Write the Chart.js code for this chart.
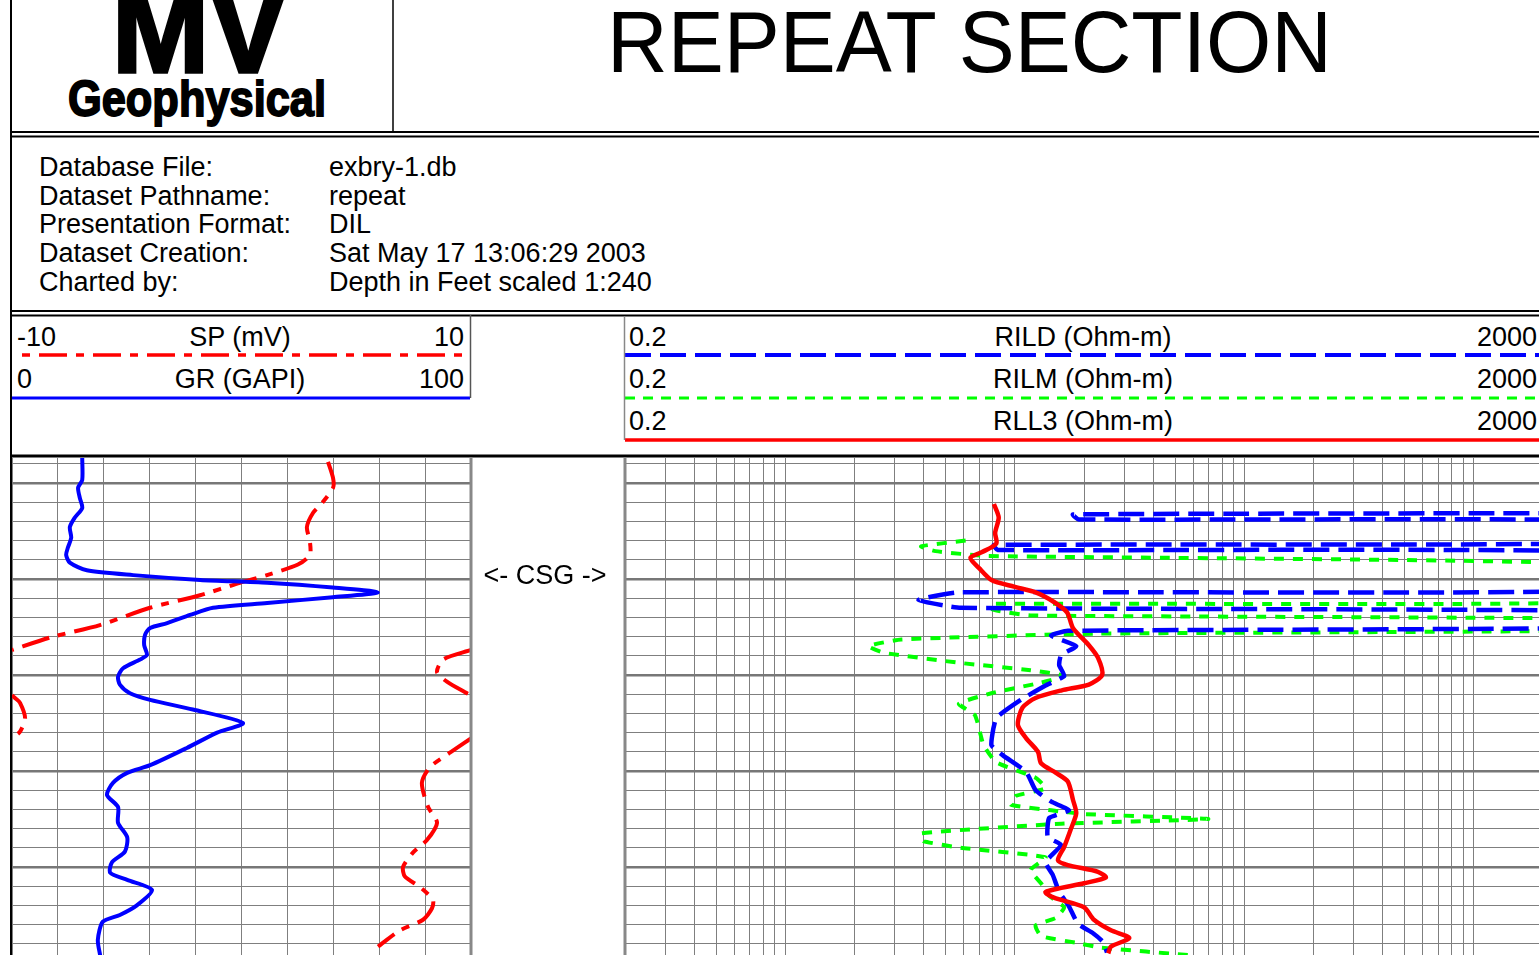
<!DOCTYPE html>
<html><head><meta charset="utf-8">
<script src="https://cdn.jsdelivr.net/npm/chart.js@4.4.1/dist/chart.umd.min.js"></script>
<style>
html,body{margin:0;padding:0;width:1539px;height:955px;overflow:hidden;background:#fff;}
#hdr{position:absolute;left:0;top:0;}
#c1{position:absolute;left:12px;top:458px;}
#c2{position:absolute;left:625px;top:458px;}
#ov{position:absolute;left:0;top:0;pointer-events:none;}
text{font-family:"Liberation Sans",Arial,sans-serif;fill:#000;}
</style></head><body>
<svg id="hdr" width="1539" height="458">
  <text x="112" y="72" font-size="122" font-weight="bold" textLength="175" lengthAdjust="spacingAndGlyphs" stroke="#000" stroke-width="3.5">MV</text>
  <text x="68" y="116" font-size="50" font-weight="bold" textLength="258" lengthAdjust="spacingAndGlyphs" stroke="#000" stroke-width="1.8">Geophysical</text>
  <text x="607" y="72" font-size="88" textLength="725" lengthAdjust="spacingAndGlyphs">REPEAT SECTION</text>

  <g font-size="27">
    <text x="39" y="176">Database File:</text>
    <text x="39" y="205">Dataset Pathname:</text>
    <text x="39" y="233">Presentation Format:</text>
    <text x="39" y="262">Dataset Creation:</text>
    <text x="39" y="291">Charted by:</text>
    <text x="329" y="176">exbry-1.db</text>
    <text x="329" y="205">repeat</text>
    <text x="329" y="233">DIL</text>
    <text x="329" y="262">Sat May 17 13:06:29 2003</text>
    <text x="329" y="291">Depth in Feet scaled 1:240</text>
  </g>

  <g font-size="27">
    <text x="17" y="346">-10</text>
    <text x="240" y="346" text-anchor="middle">SP (mV)</text>
    <text x="464" y="346" text-anchor="end">10</text>
    <text x="17" y="388">0</text>
    <text x="240" y="388" text-anchor="middle">GR (GAPI)</text>
    <text x="464" y="388" text-anchor="end">100</text>

    <text x="629" y="346">0.2</text>
    <text x="1083" y="346" text-anchor="middle">RILD (Ohm-m)</text>
    <text x="1537" y="346" text-anchor="end">2000</text>
    <text x="629" y="388">0.2</text>
    <text x="1083" y="388" text-anchor="middle">RILM (Ohm-m)</text>
    <text x="1537" y="388" text-anchor="end">2000</text>
    <text x="629" y="430">0.2</text>
    <text x="1083" y="430" text-anchor="middle">RLL3 (Ohm-m)</text>
    <text x="1537" y="430" text-anchor="end">2000</text>
  </g>

  <line x1="22" y1="355" x2="463" y2="355" stroke="#ff0000" stroke-width="3.5" stroke-dasharray="8 9 28 9"/>
  <line x1="12" y1="398" x2="470" y2="398" stroke="#0000ff" stroke-width="3"/>
  <line x1="625" y1="355" x2="1539" y2="355" stroke="#0000ff" stroke-width="4" stroke-dasharray="26 9"/>
  <line x1="625" y1="398" x2="1539" y2="398" stroke="#00ff00" stroke-width="3" stroke-dasharray="10 8"/>
  <line x1="625" y1="440" x2="1539" y2="440" stroke="#ff0000" stroke-width="3.5"/>
</svg>

<canvas id="c1" width="459" height="497"></canvas>
<canvas id="c2" width="918" height="497"></canvas>

<svg id="ov" width="1539" height="955">
  <text x="545" y="584" font-size="27" text-anchor="middle">&lt;- CSG -&gt;</text>
  <line x1="11" y1="0" x2="11" y2="955" stroke="#000" stroke-width="2"/>
  <line x1="393" y1="0" x2="393" y2="132" stroke="#000" stroke-width="1.5"/>
  <line x1="11" y1="132" x2="1539" y2="132" stroke="#000" stroke-width="2"/>
  <line x1="11" y1="136.5" x2="1539" y2="136.5" stroke="#000" stroke-width="2"/>
  <line x1="11" y1="311" x2="1539" y2="311" stroke="#000" stroke-width="2"/>
  <line x1="11" y1="315.5" x2="1539" y2="315.5" stroke="#000" stroke-width="2"/>
  <line x1="470.5" y1="315" x2="470.5" y2="398" stroke="#555" stroke-width="1.5"/>
  <line x1="624.5" y1="316" x2="624.5" y2="440" stroke="#888" stroke-width="1.5"/>
  <line x1="11" y1="456" x2="1539" y2="456" stroke="#000" stroke-width="3"/>
  <line x1="471" y1="457" x2="471" y2="955" stroke="#888" stroke-width="3"/>
  <line x1="625" y1="457" x2="625" y2="955" stroke="#888" stroke-width="3"/>
</svg>

<script>
// ---- grid / tick values ----
const depthTop = 1987.4;
const depthBottom = 2039.17;
const depthGrid = [1988,1990,1992,1994,1996,1998,2000,2002,2004,2006,2008,2010,2012,2014,2016,2018,2020,2022,2024,2026,2028,2030,2032,2034,2036,2038];
const linGrid = [0,10,20,30,40,50,60,70,80,90,100];
const logGrid = [0.2,0.3,0.4,0.5,0.6,0.7,0.8,0.9,1,2,3,4,5,6,7,8,9,10,20,30,40,50,60,70,80,90,100,200,300,400,500,600,700,800,900,1000,2000];

// ---- GR (GAPI) ----
const grDepth = [1987.4,1989.7,1990.5,1991.6,1992.6,1993.6,1994.6,1995.7,1996.7,1997.5,1998.3,1999.1,1999.6,2000.1,2000.4,2000.9,2001.4,2001.9,2002.5,2003.0,2003.75,2004.6,2005.1,2005.8,2006.9,2007.9,2008.4,2009.3,2010.2,2011.0,2011.9,2012.6,2013.6,2015.0,2016.0,2017.6,2019.4,2020.2,2021.25,2022.5,2023.75,2025.4,2026.9,2028.4,2029.5,2030.6,2031.35,2032.4,2034.0,2035.0,2035.7,2037.6,2039.2];
const grValue = [15.3,15.3,14.4,14.8,15.3,13.7,12.6,12.9,12.2,11.8,12.6,16.3,26.4,41.0,55.6,69.9,79.7,69.9,55.6,43.8,38.8,33.8,30.1,29.0,28.8,29.4,27.9,24.2,23.1,23.5,25.7,30.1,39.4,50.3,44.7,38.1,30.1,25.1,22.0,20.7,23.1,23.1,25.1,24.6,21.8,21.4,25.1,30.5,27.2,23.5,19.8,18.7,19.2];

// ---- SP (mV), as plotted on the -10..10 track (null = wrap break) ----
const spDepth = [1987.8,1989.5,1990.5,1992.1,1993.1,1994.6,1996.1,1997.5,1998.5,1999.6,2000.4,2001.7,2003.0,2004.8,2006.1,2007.4,
  2007.4,
  2007.4,2008.4,2009.7,2010.7,2011.8,2012.1,
  2012.1,
  2012.1,2012.4,2012.9,2014.5,2015.9,2016.6,
  2016.6,
  2016.6,2018.1,2019.6,2021.25,2023.75,2025.4,2027.2,2028.5,2030.0,2031.0,2032.1,2033.4,2034.3,2035.5,2036.6,2038.3];
const spValue = [3.77,3.99,3.99,3.51,3.12,2.85,2.98,2.98,2.46,1.11,-0.07,-1.81,-3.99,-6.17,-8.34,-10.0,
  null,
  10.0,8.78,8.52,8.95,9.74,10.0,
  null,
  -10.0,-9.87,-9.65,-9.43,-9.65,-10.0,
  null,
  10.0,9.08,8.21,7.86,8.13,8.52,8.08,7.47,7.04,7.12,7.78,8.34,8.30,7.91,6.91,5.95];

// ---- RILD (Ohm-m) ; 5000 = off scale to the right ----
const rildDepth = [1993.13,1993.28,1993.8,1993.96,1996.2,1996.46,1996.98,1997.29,2001.1,2001.4,2002.2,2003.0,2003.4,2005.0,2005.4,2005.9,2007.0,2007.9,2009.0,2010.1,2011.1,2012.6,2014.5,2017.3,2018.4,2020.1,2022.0,2023.2,2024.1,2024.9,2026.9,2027.7,2029.5,2030.8,2032.6,2034.1,2035.9,2036.9,2037.8,2038.9];
const rildValue = [5000,17.9,19.0,5000,5000,8.1,8.4,5000,5000,5.6,3.8,5.8,5000,5000,17.0,14.4,18.5,15.9,15.6,16.4,13.6,10.6,8.3,7.9,8.9,11.2,12.3,14.4,17.2,14.1,13.9,15.9,13.6,14.6,15.6,17.2,18.8,21.9,24.2,25.2];

// ---- RILM (Ohm-m) ----
const rilmDepth = [1996.0,1996.6,1997.1,1997.6,1998.6,2002.3,2002.6,2003.2,2003.8,2004.2,2005.3,2005.7,2006.3,2007.0,2007.7,2008.75,2009.5,2010.1,2010.8,2011.9,2013.0,2014.2,2017.3,2019.1,2020.7,2021.8,2022.6,2023.5,2024.1,2024.5,2025.0,2025.5,2026.5,2027.3,2028.0,2029.0,2030.3,2031.9,2033.0,2034.2,2035.3,2036.1,2037.2,2037.9,2038.4,2039.2];
const rilmValue = [6.1,3.9,4.5,7.5,5000,5000,7.9,8.0,11.7,5000,5000,22.6,3.2,2.3,2.7,5.8,11.7,16.4,13.0,7.9,5.7,6.7,7.3,8.3,12.3,13.6,10.1,9.6,14.4,20.4,69.6,15.9,3.9,4.0,5.8,13.6,11.7,13.2,14.1,16.4,15.1,12.3,13.0,18.5,23.7,58.6];

// ---- RLL3 (Ohm-m) ----
const rll3Depth = [1992.2,1993.6,1995.2,1996.3,1997.2,1997.8,1998.9,2000.1,2000.8,2001.4,2002.4,2003.5,2005.1,2006.9,2008.2,2010.0,2011.0,2011.6,2012.4,2013.4,2015.2,2016.6,2018.0,2019.2,2020.2,2021.1,2023.0,2024.4,2026.1,2027.9,2029.3,2029.8,2030.5,2031.1,2031.7,2032.6,2033.2,2034.2,2035.5,2036.6,2037.4,2038.3,2039.0];
const rll3Value = [8.1,8.5,8.2,8.3,7.2,6.4,7.0,7.9,9.9,12.3,14.8,16.9,17.9,21.0,23.0,24.0,21.0,16.0,12.3,10.8,10.3,11.2,12.6,13.0,15.1,17.0,17.9,18.5,17.5,16.4,15.4,17.0,23.0,24.9,20.0,13.6,14.8,20.0,22.1,26.2,31.5,26.2,25.5];

function pts(vals, depths){ return vals.map((v,i)=>({x:v, y:depths[i]})); }

const gridGray = '#7f7f7f';
function yGrid(){
  return {
    type:'linear', min:depthTop, max:depthBottom, reverse:true, display:true,
    ticks:{display:false},
    border:{display:false},
    grid:{drawTicks:false,
      color: c => (c.tick && c.tick.value % 10 === 0) ? '#777777' : gridGray,
      lineWidth: c => (c.tick && c.tick.value % 10 === 0) ? 2.5 : 1},
    afterBuildTicks: s => { s.ticks = depthGrid.map(v=>({value:v})); }
  };
}

const common = {
  responsive:false, animation:false, devicePixelRatio:1, events:[],
  layout:{padding:0},
  plugins:{legend:{display:false}, tooltip:{enabled:false}},
  elements:{point:{radius:0}}
};

new Chart(document.getElementById('c1'), {
  type:'scatter',
  data:{datasets:[
    {data:pts(grValue, grDepth), xAxisID:'x', showLine:true, borderColor:'#0000ff', borderWidth:4, tension:0.25, pointRadius:0, clip:0},
    {data:pts(spValue, spDepth), xAxisID:'xsp', showLine:true, borderColor:'#ff0000', borderWidth:4, borderDash:[28,9,8,9], tension:0.25, pointRadius:0, clip:0, spanGaps:false}
  ]},
  options:Object.assign({}, common, {
    scales:{
      x:{type:'linear', min:0, max:100, display:true, position:'bottom',
         ticks:{display:false}, border:{display:false},
         grid:{drawTicks:false, color:gridGray, lineWidth:1},
         afterBuildTicks: s => { s.ticks = linGrid.map(v=>({value:v})); }},
      xsp:{type:'linear', min:-10, max:10, display:false},
      y:yGrid()
    }
  })
});

new Chart(document.getElementById('c2'), {
  type:'scatter',
  data:{datasets:[
    {data:pts(rll3Value, rll3Depth), showLine:true, borderColor:'#ff0000', borderWidth:4.5, tension:0.25, pointRadius:0, clip:0},
    {data:pts(rildValue, rildDepth), showLine:true, borderColor:'#0000ff', borderWidth:4.5, borderDash:[26,9], tension:0.15, pointRadius:0, clip:0},
    {data:pts(rilmValue, rilmDepth), showLine:true, borderColor:'#00ff00', borderWidth:4, borderDash:[10,9], tension:0.15, pointRadius:0, clip:0}
  ]},
  options:Object.assign({}, common, {
    scales:{
      x:{type:'logarithmic', min:0.2, max:2000, display:true, position:'bottom',
         ticks:{display:false}, border:{display:false},
         grid:{drawTicks:false, color:gridGray, lineWidth:1},
         afterBuildTicks: s => { s.ticks = logGrid.map(v=>({value:v})); }},
      y:yGrid()
    }
  })
});
</script>
</body></html>
